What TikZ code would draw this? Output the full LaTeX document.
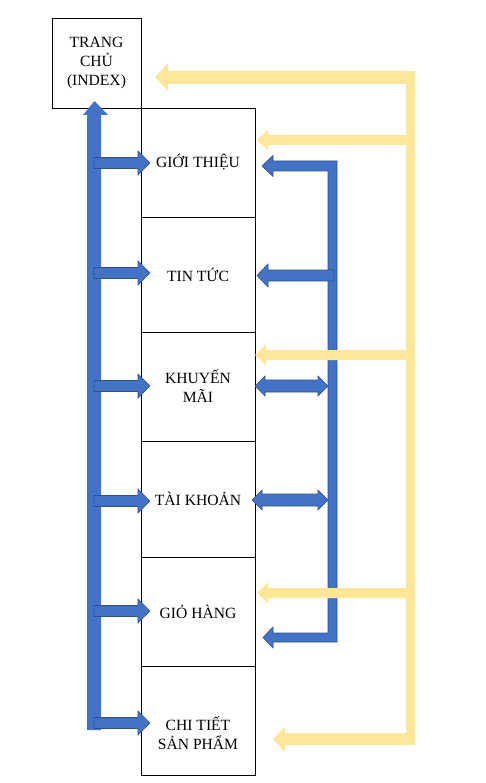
\documentclass[tikz,border=0pt]{standalone}
\usepackage{fontspec}
\setmainfont{Liberation Serif}
\definecolor{bl}{HTML}{4472C4}
\definecolor{bld}{HTML}{2F528F}
\definecolor{yl}{HTML}{FFE699}
% horizontal block arrow: tip x, tail x, y, shaft half, head half, signed head length
\newcommand\harr[7]{%
  \path[#1] ({#2},{#4}) -- ({#2+#7},{#4-#6}) -- ({#2+#7},{#4-#5}) -- ({#3},{#4-#5})
    -- ({#3},{#4+#5}) -- ({#2+#7},{#4+#5}) -- ({#2+#7},{#4+#6}) -- cycle;}
% double block arrow: left x, right x, y, shaft half, head half, head length
\newcommand\darr[7]{%
  \path[#1] ({#2},{#4}) -- ({#2+#7},{#4-#6}) -- ({#2+#7},{#4-#5}) -- ({#3-#7},{#4-#5})
    -- ({#3-#7},{#4-#6}) -- ({#3},{#4}) -- ({#3-#7},{#4+#6}) -- ({#3-#7},{#4+#5})
    -- ({#2+#7},{#4+#5}) -- ({#2+#7},{#4+#6}) -- cycle;}
\begin{document}
\begin{tikzpicture}[x=1pt,y=-1pt,
  box/.style={draw=black,line width=0.8pt,inner sep=0pt,align=center,
    font=\fontsize{15.6}{19}\selectfont},
  bluearr/.style={fill=bl,draw=bld,line width=0.6pt},
  yelarr/.style={fill=yl}]
\useasboundingbox (0,0) rectangle (485,783);
% boxes
\node[box,minimum width=89pt,minimum height=90pt] (index) at (96.5,63) {TRANG\\CHỦ\\(INDEX)};
\node[box,minimum width=114pt,minimum height=109pt] (gt) at (198,162.5) {GIỚI THIỆU};
\node[box,minimum width=114pt,minimum height=115pt] (tt) at (198,274.5) {TIN TỨC};
\node[box,minimum width=114pt,minimum height=109pt] (km) at (198,386.5) {KHUYẾN\\MÃI};
\node[box,minimum width=114pt,minimum height=116pt] (tk) at (198,499) {TÀI KHOẢN};
\node[box,minimum width=114pt,minimum height=109pt] (gh) at (198,611.5) {GIỎ HÀNG};
\node[box,minimum width=114pt,minimum height=109pt] (ct) at (198,720.5) {};
\node[font=\fontsize{15.6}{19}\selectfont,align=center,inner sep=0pt] (ctt) at (198,733) {CHI TIẾT\\SẢN PHẨM};
% blue left bar
\path[fill=bl] (87,730) -- (87,115) -- (83,115) -- (94.5,101) -- (108,115) -- (101,115) -- (101,730) -- cycle;
% blue arrows to pages
\foreach \yy in {163,273,386,501,611,723}{
  \harr{bluearr}{150}{94}{\yy}{5.5}{12}{-12}
}
% blue right bracket
\path[bluearr] (262,166) -- (273,155.5) -- (273,161) -- (337,161) -- (337,642) -- (273,642)
  -- (273,648) -- (263,637.5) -- (273,627) -- (273,633) -- (328,633) -- (328,171)
  -- (273,171) -- (273,176.5) -- cycle;
\harr{bluearr}{257}{334}{275.5}{5.5}{11.5}{11}
\darr{bluearr}{255}{328}{386}{6}{10}{10}
\darr{bluearr}{252}{328}{500}{6}{10}{10}
% yellow
\path[yelarr] (155,77) -- (168,63) -- (168,71) -- (415,71) -- (415,745) -- (285,745)
  -- (285,752) -- (273,739) -- (285,727) -- (285,733) -- (406,733) -- (406,84)
  -- (168,84) -- (168,91) -- cycle;
\harr{yelarr}{257}{407}{140}{5}{10.5}{11}
\harr{yelarr}{255}{407}{355}{5}{10.5}{11}
\harr{yelarr}{257}{407}{593}{5}{10.5}{11}
\end{tikzpicture}
\end{document}
